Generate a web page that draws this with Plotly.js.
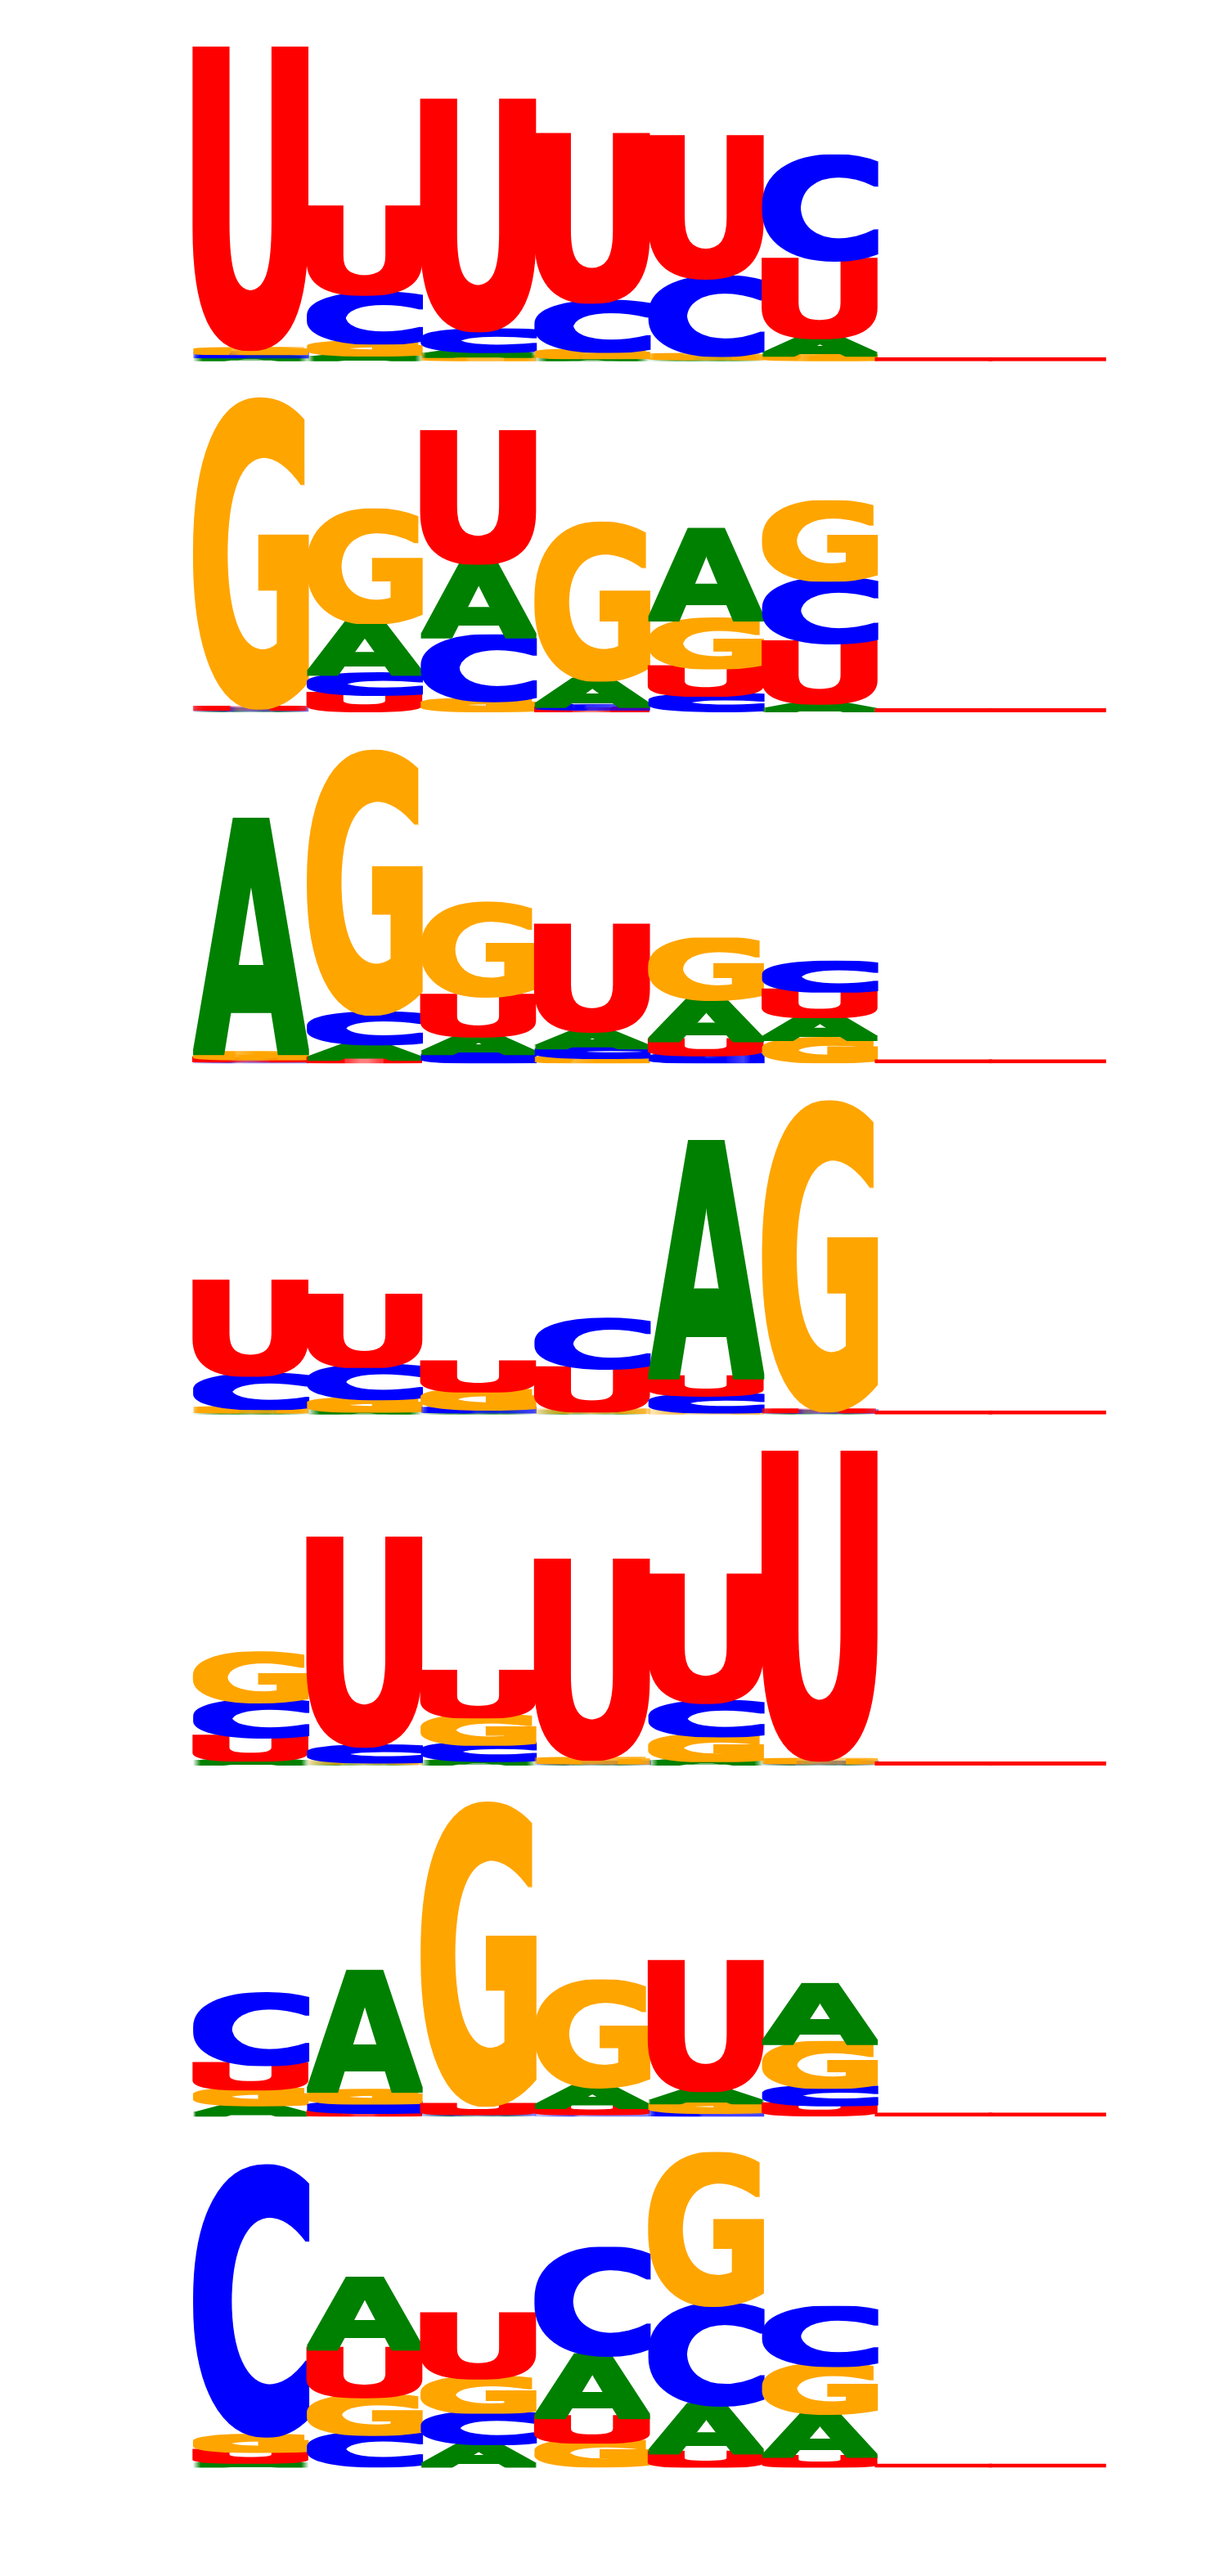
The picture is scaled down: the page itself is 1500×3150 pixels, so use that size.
<!DOCTYPE html>
<html>
<head>
<meta charset="utf-8">
<script src="https://cdn.plot.ly/plotly-3.0.1.min.js"></script>
<style>
  body { margin: 0; background: #fff; }
  #graph { width: 1500px; height: 3150px; }
</style>
</head>
<body>
<div id="graph"></div>
<script>
// sequence positions of every motif (7 and 8 are empty)
const positions = [1, 2, 3, 4, 5, 6, 7, 8];
const letters = ['A', 'C', 'G', 'U'];

// letter heights in bits, one row per motif, one column per position
const heightA = [
    [0.016, 0.026, 0.028, 0.012, 0.005, 0.10, 0, 0],
    [0.004, 0.296, 0.42, 0.15, 0.51, 0.044, 0, 0],
    [1.33, 0.087, 0.10, 0.093, 0.234, 0.13, 0, 0],
    [0.005, 0.01, 0.005, 0.003, 1.34, 0.003, 0, 0],
    [0.022, 0.003, 0.02, 0.003, 0.02, 0.003, 0, 0],
    [0.058, 0.678, 0.003, 0.115, 0.07, 0.33, 0, 0],
    [0.022, 0.40, 0.128, 0.354, 0.273, 0.25, 0, 0]
];
const heightC = [
    [0.019, 0.277, 0.117, 0.28, 0.44, 0.59, 0, 0],
    [0.005, 0.114, 0.363, 0.015, 0.089, 0.358, 0, 0],
    [0.005, 0.171, 0.047, 0.055, 0.04, 0.16, 0, 0],
    [0.19, 0.185, 0.015, 0.28, 0.095, 0.003, 0, 0],
    [0.20, 0.09, 0.093, 0.003, 0.19, 0.003, 0, 0],
    [0.40, 0.053, 0.005, 0.008, 0.015, 0.10, 0, 0],
    [1.537, 0.18, 0.179, 0.605, 0.569, 0.325, 0, 0]
];
const heightG = [
    [0.023, 0.070, 0.019, 0.036, 0.02, 0.026, 0, 0],
    [1.76, 0.636, 0.058, 0.89, 0.273, 0.44, 0, 0],
    [0.03, 1.495, 0.53, 0.025, 0.34, 0.128, 0, 0],
    [0.02, 0.07, 0.105, 0.008, 0.005, 1.76, 0, 0],
    [0.28, 0.008, 0.156, 0.02, 0.14, 0.015, 0, 0],
    [0.09, 0.067, 1.72, 0.60, 0.055, 0.25, 0, 0],
    [0.087, 0.215, 0.195, 0.136, 0.86, 0.273, 0, 0]
];
const heightU = [
    [1.713, 0.491, 1.31, 0.95, 0.80, 0.44, 0, 0],
    [0.006, 0.093, 0.743, 0.01, 0.156, 0.343, 0, 0],
    [0.012, 0.014, 0.226, 0.60, 0.08, 0.145, 0, 0],
    [0.53, 0.40, 0.16, 0.24, 0.10, 0.005, 0, 0],
    [0.13, 1.18, 0.254, 1.13, 0.72, 1.75, 0, 0],
    [0.14, 0.015, 0.047, 0.035, 0.73, 0.058, 0, 0],
    [0.062, 0.27, 0.36, 0.14, 0.073, 0.05, 0, 0]
];

const heights = { A: heightA, C: heightC, G: heightG, U: heightU };
const colors = { A: 'green', C: 'blue', G: 'orange', U: 'red' };
const FONT = 'DejaVu Sans';
const numMotifs = heightA.length;

// figure geometry
const W = 1500, H = 3150;
const margin = { l: 233, r: 146, t: 14, b: 131 };
const YMAX = 2;          // bits shown per panel
const STROKE = 5;        // glyph outline width, px
const PAD = STROKE / 2;
const CLIP = 4;          // room so outlines at the edges are not clipped

const xLo = positions[0] - 0.5, xHi = positions[positions.length - 1] + 0.5;
const plotW = W - margin.l - margin.r;
const pxPerPos = (plotW - 2 * CLIP) / (xHi - xLo);
const panelH = (H - margin.t - margin.b) / numMotifs;
const pxPerBit = panelH / YMAX;

// ink box of a glyph at 200px, measured once
const inkCache = {};
function inkBox(ch) {
    if (inkCache[ch]) return inkCache[ch];
    const ctx = document.createElement('canvas').getContext('2d');
    ctx.font = `bold 200px "${FONT}"`;
    const m = ctx.measureText(ch);
    inkCache[ch] = {
        x0: -m.actualBoundingBoxLeft,
        y0: -m.actualBoundingBoxAscent,
        w: m.actualBoundingBoxLeft + m.actualBoundingBoxRight,
        h: m.actualBoundingBoxAscent + m.actualBoundingBoxDescent
    };
    return inkCache[ch];
}

// svg of one stretched glyph with a solid outline, sized in screen px
function glyphSource(ch, wPx, hPx) {
    const sw = wPx + 2 * PAD, sh = hPx + 2 * PAD;
    let body;
    if (hPx <= 0) {
        // a flat glyph only shows its outline
        body = `<rect x="0" y="0" width="${sw}" height="${sh}" fill="${colors[ch]}"/>`;
    } else {
        const b = inkBox(ch);
        const sx = wPx / b.w, sy = hPx / b.h;
        body = `<g filter="url(#d)"><text transform="translate(${PAD} ${PAD}) scale(${sx} ${sy}) ` +
            `translate(${-b.x0} ${-b.y0})" font-family="${FONT}" font-weight="bold" ` +
            `font-size="200" fill="${colors[ch]}">${ch}</text></g>`;
    }
    const svg = `<svg xmlns="http://www.w3.org/2000/svg" width="${sw}" height="${sh}" ` +
        `viewBox="0 0 ${sw} ${sh}" preserveAspectRatio="none"><defs>` +
        `<filter id="d" filterUnits="userSpaceOnUse" x="0" y="0" width="${sw}" height="${sh}">` +
        `<feMorphology operator="dilate" radius="${PAD}"/></filter></defs>${body}</svg>`;
    return 'data:image/svg+xml;base64,' + btoa(svg);
}

const traces = [];
const images = [];
const layout = {
    width: W,
    height: H,
    margin: Object.assign({ pad: 0 }, margin),
    paper_bgcolor: '#ffffff',
    plot_bgcolor: '#ffffff',
    showlegend: false,
    images: images
};

const dx = CLIP / pxPerPos, dy = CLIP / pxPerBit;
const padX = PAD / pxPerPos, padY = PAD / pxPerBit;

for (let k = 0; k < numMotifs; k++) {
    const sfx = k === 0 ? '' : String(k + 1);
    const xref = 'x' + sfx, yref = 'y' + sfx;
    layout['xaxis' + sfx] = {
        domain: [0, 1], range: [xLo - dx, xHi + dx],
        anchor: yref, visible: false, fixedrange: true
    };
    layout['yaxis' + sfx] = {
        domain: [1 - (k + 1) / numMotifs, 1 - k / numMotifs],
        range: [-dy, YMAX - dy],
        anchor: xref, visible: false, fixedrange: true
    };

    // empty trace so the subplot exists
    traces.push({
        type: 'scatter', mode: 'none', x: positions, y: positions.map(() => 0),
        xaxis: xref, yaxis: yref, hoverinfo: 'skip'
    });

    // stack letters small at the bottom, big on top
    positions.forEach((pos, i) => {
        let stack = letters
            .map(ch => ({ ch: ch, h: heights[ch][k][i] }))
            .sort((a, b) => a.h - b.h);
        // flat glyphs all sit on the same spot: only the last one shows
        const flat = stack.filter(d => d.h <= 0);
        stack = stack.filter(d => d.h > 0);
        if (flat.length) stack.unshift(flat[flat.length - 1]);

        let floor = 0;
        stack.forEach(d => {
            images.push({
                source: glyphSource(d.ch, pxPerPos, d.h * pxPerBit),
                xref: xref, yref: yref,
                x: pos - 0.5 - padX, y: floor - padY,
                sizex: 1 + 2 * padX, sizey: d.h + 2 * padY,
                xanchor: 'left', yanchor: 'bottom',
                sizing: 'stretch', layer: 'above'
            });
            floor += d.h;
        });
    });
}

Plotly.newPlot('graph', traces, layout, { displayModeBar: false, staticPlot: true });
</script>
</body>
</html>
